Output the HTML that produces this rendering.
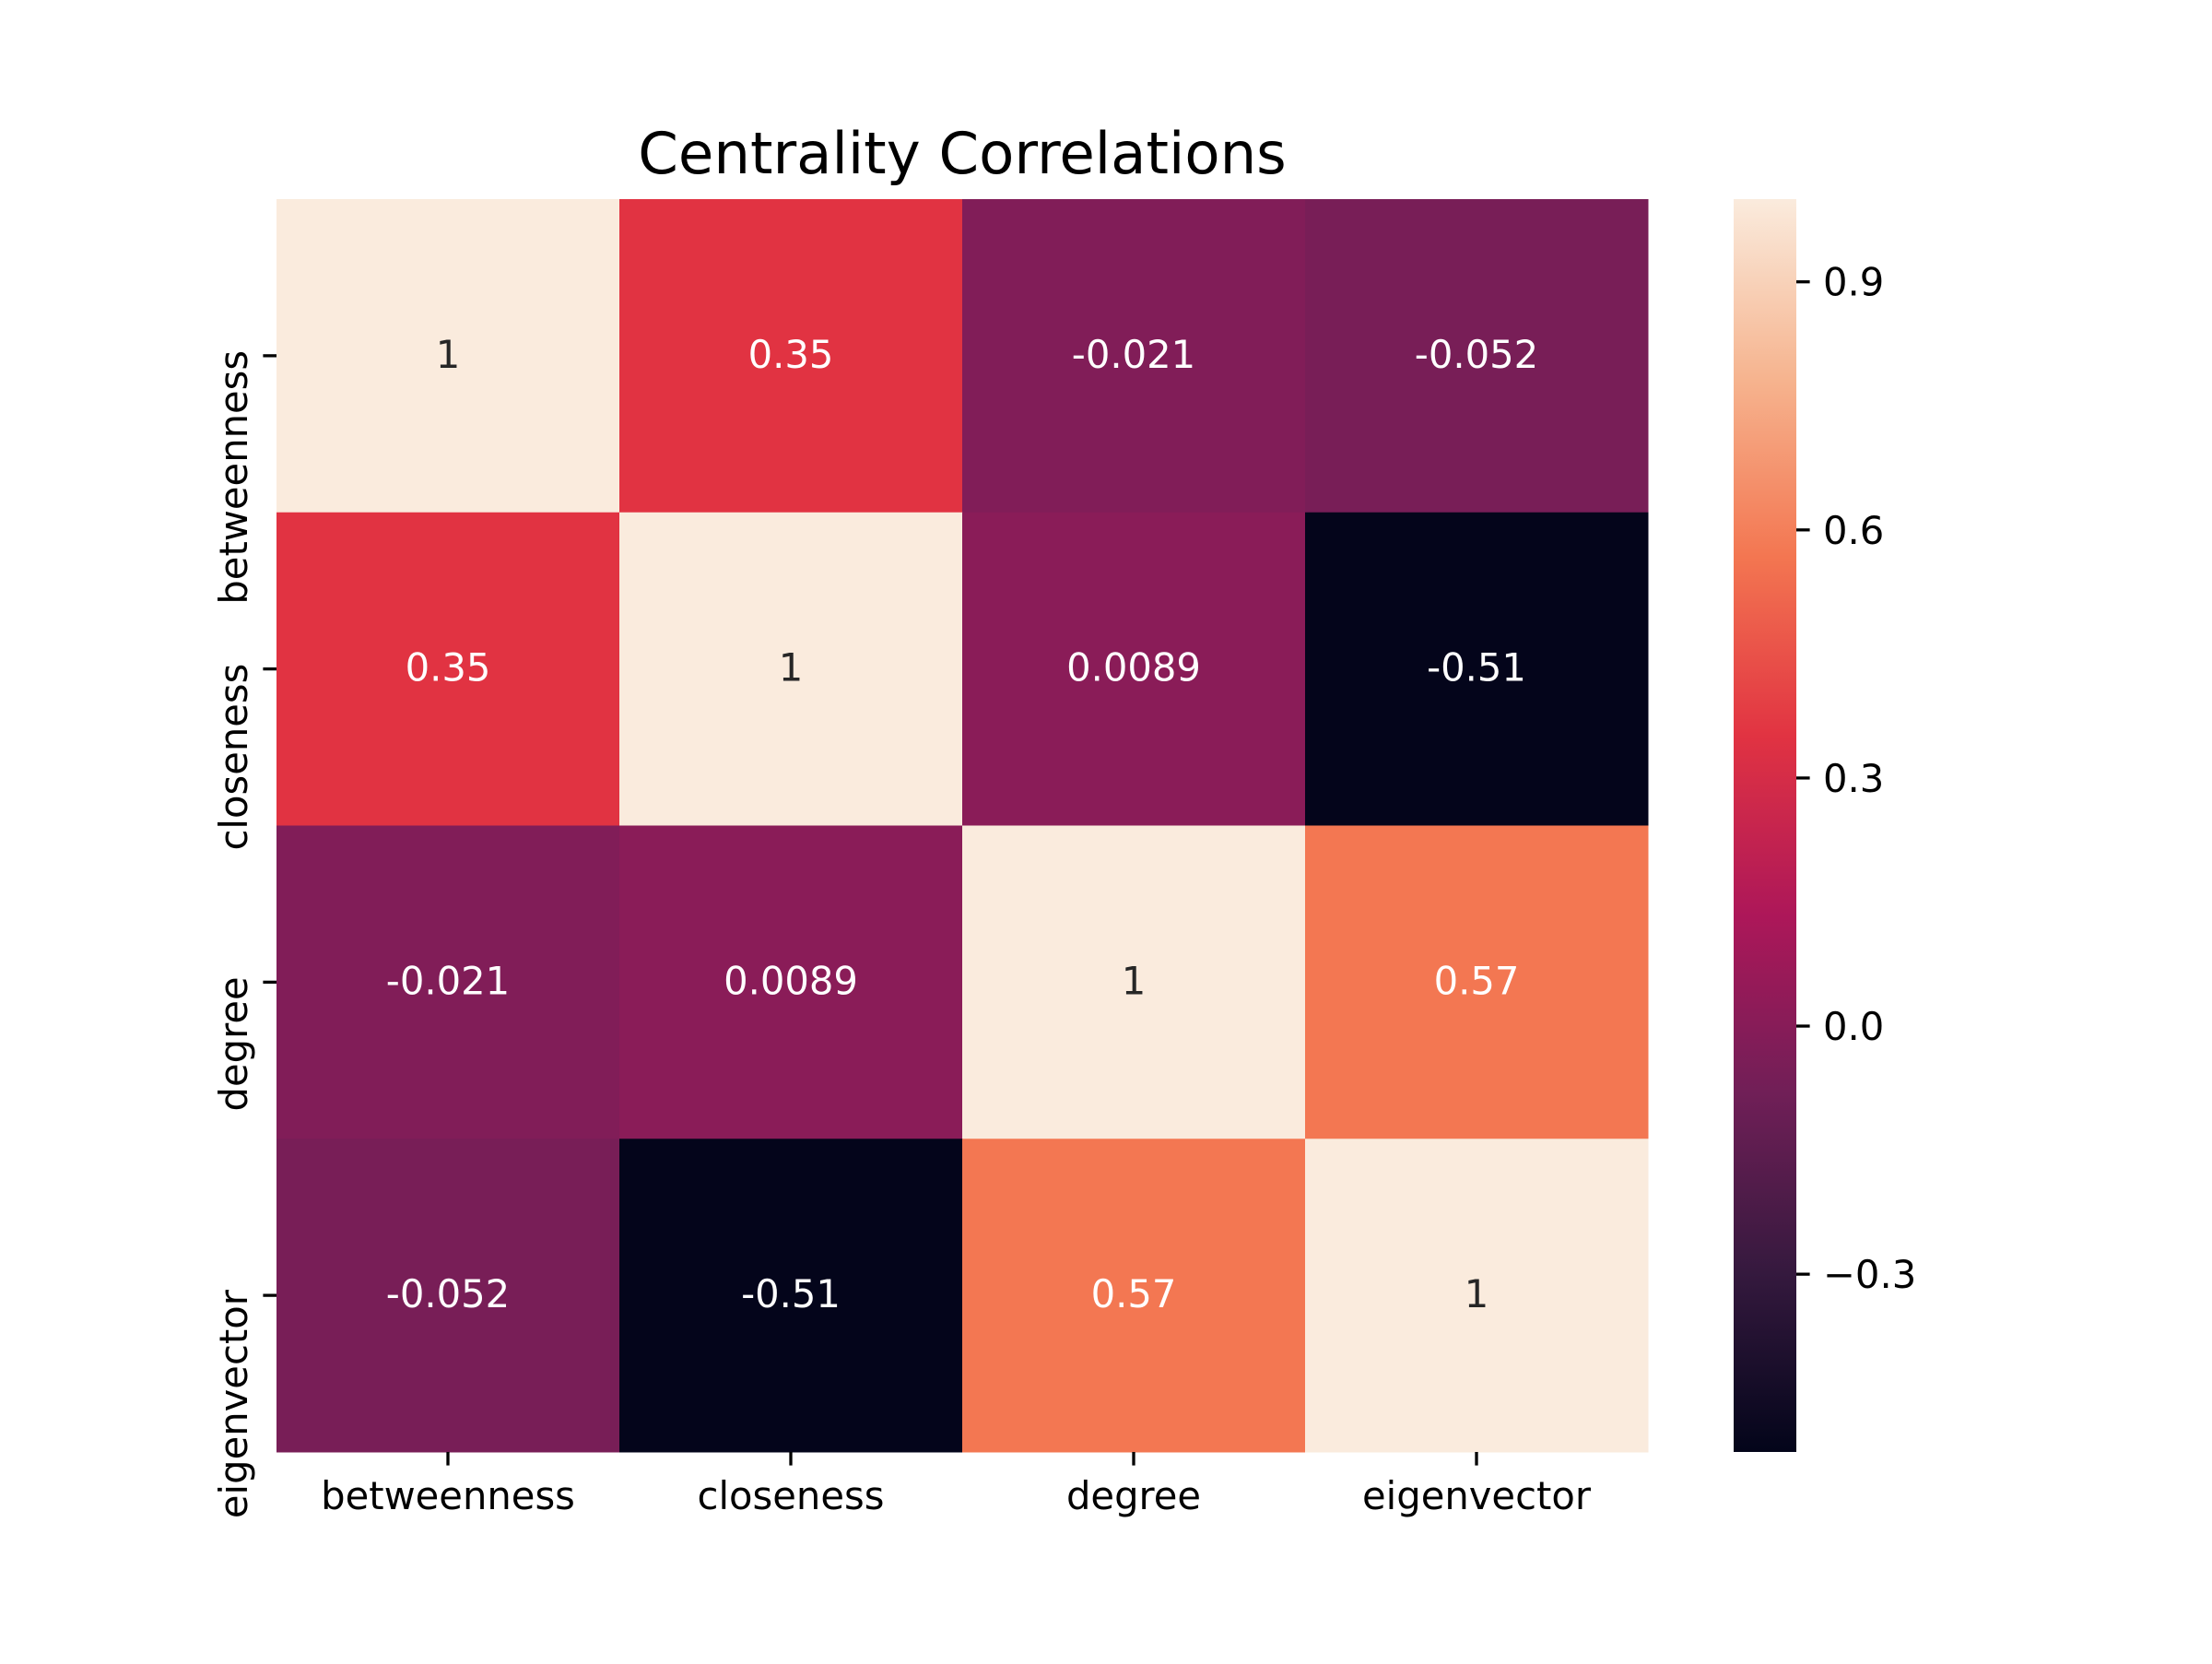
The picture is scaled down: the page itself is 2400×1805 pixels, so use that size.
<!DOCTYPE html>
<html><head><meta charset="utf-8"><style>
html,body{margin:0;padding:0;background:#fff;}
svg text{font-family:"DejaVu Sans","Liberation Sans",sans-serif;}
</style></head><body>
<svg id="chart" width="2400" height="1800" viewBox="0 0 2400 1800" xmlns="http://www.w3.org/2000/svg">
<defs>
<linearGradient id="rocketGrad" x1="0" y1="1" x2="0" y2="0">
<stop offset="0" stop-color="#03051a"/>
<stop offset="0.142857" stop-color="#35193e"/>
<stop offset="0.285714" stop-color="#701f57"/>
<stop offset="0.428571" stop-color="#ad1759"/>
<stop offset="0.571429" stop-color="#e13342"/>
<stop offset="0.714286" stop-color="#f37651"/>
<stop offset="0.857143" stop-color="#f6b48f"/>
<stop offset="1" stop-color="#faebdd"/>
</linearGradient>
</defs>
<rect width="2400" height="1800" fill="#fff"/>
<text x="1044" y="188" font-size="62.5" text-anchor="middle" fill="#000">Centrality Correlations</text>
<g id="cells"></g>
<g id="xaxis"></g>
<g id="yaxis"></g>
<rect x="1881" y="216" width="68" height="1359" fill="url(#rocketGrad)"/>
<g id="cbar"></g>
</svg>
<script>
const labels = ["betweenness","closeness","degree","eigenvector"];
const row0 = [1, 0.35, -0.021, -0.052];
const row1 = [0.35, 1, 0.0089, -0.51];
const row2 = [-0.021, 0.0089, 1, 0.57];
const row3 = [-0.052, -0.51, 0.57, 1];
const annot0 = ["1","0.35","-0.021","-0.052"];
const annot1 = ["0.35","1","0.0089","-0.51"];
const annot2 = ["-0.021","0.0089","1","0.57"];
const annot3 = ["-0.052","-0.51","0.57","1"];
const cbarTicks = [-0.3, 0, 0.3, 0.6, 0.9];
const cbarTickLabels = ["\u22120.3","0.0","0.3","0.6","0.9"];
const vmin = -0.515, vmax = 1.0;

const rows = [row0,row1,row2,row3];
const annots = [annot0,annot1,annot2,annot3];
const NS = "http://www.w3.org/2000/svg";
const L = 300, R = 1788, T = 216, B = 1575;
const cw = (R-L)/labels.length, ch = (B-T)/labels.length;
const xPos = i => L + i*cw;
const yPos = j => T + j*ch;
const cbY = v => B - (v - vmin)/(vmax - vmin)*(B - T);

const stops = [[0,[3,5,26]],[1/7,[53,25,62]],[2/7,[112,31,87]],[3/7,[173,23,89]],[4/7,[225,51,66]],[5/7,[243,118,81]],[6/7,[246,180,143]],[1,[250,235,221]]];
function rocket(t){
  t = Math.max(0, Math.min(1, t));
  for (let k=0;k<stops.length-1;k++){
    const a=stops[k], b=stops[k+1];
    if (t<=b[0]){
      const f=(t-a[0])/(b[0]-a[0]);
      return a[1].map((c,i)=>Math.round(c+(b[1][i]-c)*f));
    }
  }
  return stops[stops.length-1][1];
}
function relLum(c){
  const l = c.map(v => { v/=255; return v <= 0.03928 ? v/12.92 : Math.pow((v+0.055)/1.055, 2.4); });
  return 0.2126*l[0] + 0.7152*l[1] + 0.0722*l[2];
}
function mk(tag, attrs, parent){
  const e = document.createElementNS(NS, tag);
  for (const k in attrs) e.setAttribute(k, attrs[k]);
  parent.appendChild(e);
  return e;
}
const cells = document.getElementById('cells');
rows.forEach((row, j) => {
  row.forEach((v, i) => {
    const c = rocket((v - vmin)/(vmax - vmin));
    const r = mk('rect', {x:xPos(i), y:yPos(j), width:cw+0.5, height:ch+0.5, fill:`rgb(${c[0]},${c[1]},${c[2]})`}, cells);
    
    
    const t = mk('text', {x:xPos(i)+cw/2, y:yPos(j)+ch/2+13, 'font-size':41.7, 'text-anchor':'middle', fill: relLum(c) > 0.408 ? '#262626' : '#ffffff'}, cells);
    t.textContent = annots[j][i];
    
    
  });
});
const xa = document.getElementById('xaxis');
labels.forEach((lab, i) => {
  const cx = xPos(i)+cw/2;
  const tk = mk('line', {x1:cx, x2:cx, y1:B, y2:B+14.6, stroke:'#000', 'stroke-width':3.3}, xa);
  
  
  const t = mk('text', {x:cx, y:B+62, 'font-size':41.7, 'text-anchor':'middle', fill:'#000'}, xa);
  t.textContent = lab;
  
  
});
const ya = document.getElementById('yaxis');
labels.forEach((lab, j) => {
  const cy = yPos(j)+ch/2;
  const tk = mk('line', {x1:L-14.6, x2:L, y1:cy, y2:cy, stroke:'#000', 'stroke-width':3.3}, ya);
  
  
  const t = mk('text', {x:0, y:0, 'font-size':41.7, 'text-anchor':'end', fill:'#000', transform:`translate(268,${cy-6}) rotate(-90)`}, ya);
  t.textContent = lab;
  
  
});
const cb = document.getElementById('cbar');
cbarTicks.forEach((v, k) => {
  const y = cbY(v);
  const tk = mk('line', {x1:1949, x2:1963.6, y1:y, y2:y, stroke:'#000', 'stroke-width':3.3}, cb);
  
  
  const t = mk('text', {x:1978, y:y+15, 'font-size':41.7, fill:'#000'}, cb);
  t.textContent = cbarTickLabels[k];
  
  
});
</script>
</body></html>
